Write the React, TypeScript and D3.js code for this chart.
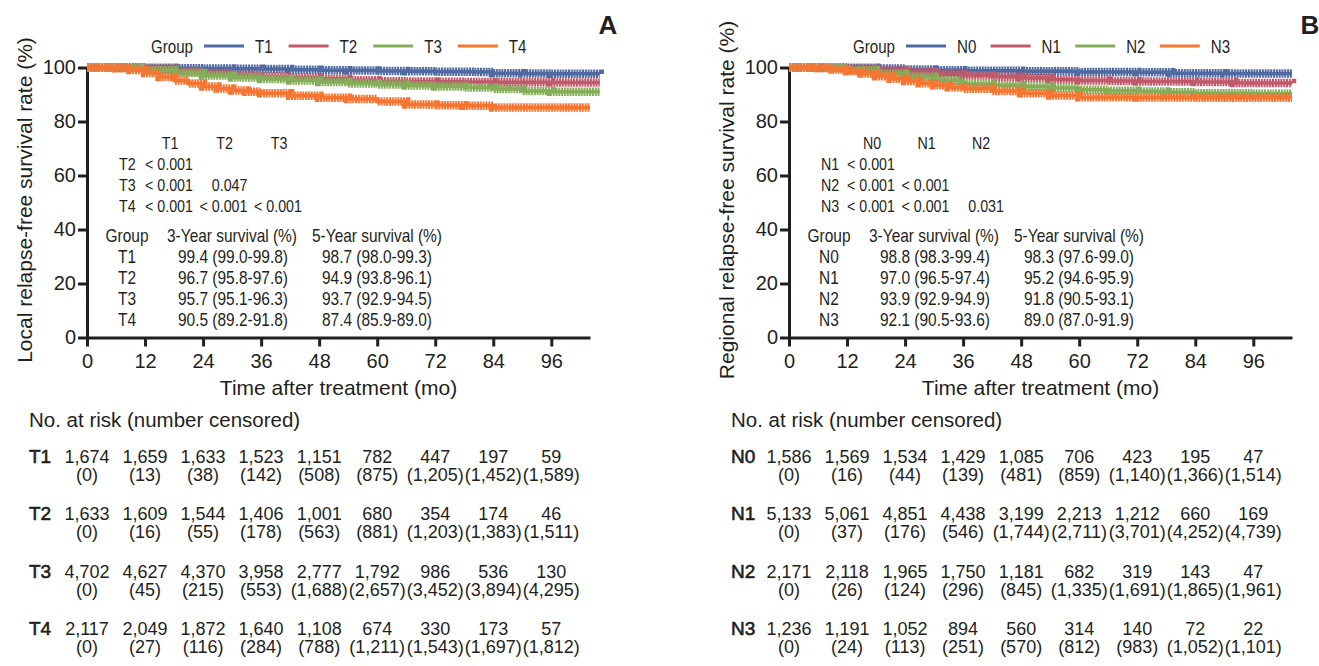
import React, { useEffect, useRef } from "react";
import * as d3 from "d3";

const WIDTH = 1319;
const HEIGHT = 666;
const INK = "#231f20";
const FONT = "'Liberation Sans', Arial, sans-serif";

const timeTicks = [0, 12, 24, 36, 48, 60, 72, 84, 96];
const rateTicks = [0, 20, 40, 60, 80, 100];
const colors = ["#4f6ba1", "#c05a6b", "#85ad5a", "#f47632"];

const tGroups = ["T1", "T2", "T3", "T4"];
const nGroups = ["N0", "N1", "N2", "N3"];

// panel A, local relapse-free survival: [month, %]
const t1Curve = [[0, 100], [6, 100], [12, 99.9], [18, 99.7], [24, 99.6], [30, 99.5], [36, 99.4], [42, 99.2], [48, 99.0], [54, 98.9], [60, 98.7], [66, 98.6], [72, 98.4], [80, 98.3], [84, 97.9], [90, 97.8], [96, 97.7], [106, 97.6]];
const t2Curve = [[0, 100], [6, 100], [12, 99.5], [18, 98.6], [24, 97.9], [30, 97.2], [36, 96.7], [42, 96.3], [48, 95.8], [54, 95.3], [60, 94.9], [66, 94.8], [72, 94.7], [78, 94.6], [84, 94.5], [96, 94.4], [106, 94.4]];
const t3Curve = [[0, 100], [6, 99.8], [12, 99.0], [18, 98.0], [24, 97.0], [30, 96.3], [36, 95.7], [42, 95.2], [48, 94.6], [54, 94.1], [60, 93.7], [66, 93.3], [72, 93.0], [78, 92.6], [84, 92.0], [90, 91.3], [96, 91.0], [106, 91.0]];
const t4Curve = [[0, 100], [6, 99.7], [9, 99.1], [12, 98.0], [15, 96.5], [18, 95.2], [21, 94.1], [24, 93.0], [27, 92.2], [30, 91.5], [33, 91.0], [36, 90.5], [42, 89.5], [48, 88.8], [54, 88.3], [60, 87.4], [66, 86.3], [72, 86.0], [78, 85.8], [84, 85.2], [96, 85.2], [104, 85.2]];

// panel B, regional relapse-free survival
const n0Curve = [[0, 100], [6, 100], [12, 99.9], [18, 99.6], [24, 99.3], [30, 99.0], [36, 98.8], [48, 98.6], [60, 98.3], [72, 98.2], [79, 97.9], [90, 97.8], [104, 97.8]];
const n1Curve = [[0, 100], [6, 99.9], [12, 99.5], [18, 98.9], [24, 98.2], [30, 97.5], [36, 97.0], [42, 96.6], [48, 96.1], [54, 95.6], [60, 95.2], [66, 95.0], [72, 94.8], [84, 94.6], [92, 94.3], [104, 94.2]];
const n2Curve = [[0, 100], [6, 99.8], [12, 99.0], [18, 97.7], [24, 96.6], [30, 95.2], [36, 93.9], [42, 93.4], [48, 93.0], [54, 92.4], [60, 91.8], [66, 91.4], [72, 91.1], [78, 90.8], [84, 90.5], [96, 90.3], [104, 90.3]];
const n3Curve = [[0, 100], [6, 99.8], [9, 99.3], [12, 98.6], [15, 97.8], [18, 96.8], [21, 95.8], [24, 95.0], [27, 94.2], [30, 93.4], [33, 92.7], [36, 92.1], [42, 91.3], [48, 90.5], [54, 89.6], [60, 89.0], [72, 88.9], [84, 88.8], [104, 88.8]];

const tPvalues = [["< 0.001"], ["< 0.001", "0.047"], ["< 0.001", "< 0.001", "< 0.001"]];
const nPvalues = [["< 0.001"], ["< 0.001", "< 0.001"], ["< 0.001", "< 0.001", "0.031"]];

const tSurv3 = ["99.4 (99.0-99.8)", "96.7 (95.8-97.6)", "95.7 (95.1-96.3)", "90.5 (89.2-91.8)"];
const tSurv5 = ["98.7 (98.0-99.3)", "94.9 (93.8-96.1)", "93.7 (92.9-94.5)", "87.4 (85.9-89.0)"];
const nSurv3 = ["98.8 (98.3-99.4)", "97.0 (96.5-97.4)", "93.9 (92.9-94.9)", "92.1 (90.5-93.6)"];
const nSurv5 = ["98.3 (97.6-99.0)", "95.2 (94.6-95.9)", "91.8 (90.5-93.1)", "89.0 (87.0-91.9)"];

const tRisk = [
  [1674, 1659, 1633, 1523, 1151, 782, 447, 197, 59],
  [1633, 1609, 1544, 1406, 1001, 680, 354, 174, 46],
  [4702, 4627, 4370, 3958, 2777, 1792, 986, 536, 130],
  [2117, 2049, 1872, 1640, 1108, 674, 330, 173, 57],
];
const tCensored = [
  [0, 13, 38, 142, 508, 875, 1205, 1452, 1589],
  [0, 16, 55, 178, 563, 881, 1203, 1383, 1511],
  [0, 45, 215, 553, 1688, 2657, 3452, 3894, 4295],
  [0, 27, 116, 284, 788, 1211, 1543, 1697, 1812],
];
const nRisk = [
  [1586, 1569, 1534, 1429, 1085, 706, 423, 195, 47],
  [5133, 5061, 4851, 4438, 3199, 2213, 1212, 660, 169],
  [2171, 2118, 1965, 1750, 1181, 682, 319, 143, 47],
  [1236, 1191, 1052, 894, 560, 314, 140, 72, 22],
];
const nCensored = [
  [0, 16, 44, 139, 481, 859, 1140, 1366, 1514],
  [0, 37, 176, 546, 1744, 2711, 3701, 4252, 4739],
  [0, 26, 124, 296, 845, 1335, 1691, 1865, 1961],
  [0, 24, 113, 251, 570, 812, 983, 1052, 1101],
];

const panels = [
  { x0: 87, letter: "A", yTitle: "Local relapse-free survival rate (%)", groups: tGroups,
    curves: [t1Curve, t2Curve, t3Curve, t4Curve], pvals: tPvalues, surv3: tSurv3, surv5: tSurv5, risk: tRisk, censored: tCensored },
  { x0: 789, letter: "B", yTitle: "Regional relapse-free survival rate (%)", groups: nGroups,
    curves: [n0Curve, n1Curve, n2Curve, n3Curve], pvals: nPvalues, surv3: nSurv3, surv5: nSurv5, risk: nRisk, censored: nCensored },
];

// no condensed face installed, so squeeze the regular one horizontally
function narrowText(parent: any, str: string, x: number, y: number, anchor = "start", squeeze = 0.84) {
  return parent.append("text").text(str)
    .attr("transform", `translate(${x},${y}) scale(${squeeze},1)`)
    .attr("text-anchor", anchor);
}

function drawPanel(svg: any, p: any) {
  const x = d3.scaleLinear().domain([0, 104]).range([p.x0, p.x0 + 503]);
  const y = d3.scaleLinear().domain([0, 100]).range([337.5, 67.5]);
  const g = svg.append("g");
  const fmt = d3.format(",");

  // axes
  const yAxis = d3.axisLeft(y).tickValues(rateTicks).tickSize(9).tickSizeOuter(0).tickPadding(2);
  const xAxis = d3.axisBottom(x).tickValues(timeTicks).tickSize(9).tickSizeOuter(0).tickPadding(7);
  const styleAxis = (a: any) => {
    a.attr("color", INK).attr("font-family", FONT).attr("font-size", 20);
    a.select(".domain").attr("stroke-width", 3);
    a.selectAll(".tick line").attr("stroke-width", 3);
  };
  g.append("g").attr("transform", `translate(${p.x0},0)`).call(yAxis).call(styleAxis);
  g.append("g").attr("transform", `translate(0,${y(0)})`).call(xAxis).call(styleAxis);

  g.append("text").text(p.yTitle)
    .attr("transform", `translate(${p.x0 - 55},200) rotate(-90)`)
    .attr("text-anchor", "middle").attr("font-family", FONT).attr("font-size", 21).attr("fill", INK);
  g.append("text").text("Time after treatment (mo)")
    .attr("x", p.x0 + 251.5).attr("y", 395)
    .attr("text-anchor", "middle").attr("font-family", FONT).attr("font-size", 21).attr("fill", INK);

  // curves (thick dashed band mimics the dense censor ticks)
  const line = d3.line<number[]>().x(d => x(d[0])).y(d => y(d[1])).curve(d3.curveStepAfter);
  p.curves.forEach((c: number[][], i: number) => {
    g.append("path").attr("d", line(c)).attr("fill", "none").attr("stroke", colors[i]).attr("stroke-width", 3.5);
    g.append("path").attr("d", line(c)).attr("fill", "none").attr("stroke", colors[i])
      .attr("stroke-width", 8.5).attr("stroke-dasharray", "2 0.8");
  });

  // legend
  const leg = g.append("g").attr("font-family", FONT).attr("font-size", 18).attr("fill", INK);
  narrowText(leg, "Group", p.x0 + 106, 52.5, "end");
  p.groups.forEach((name: string, i: number) => {
    const lx = p.x0 + 117 + i * 84.6;
    leg.append("line").attr("x1", lx).attr("x2", lx + 40).attr("y1", 46).attr("y2", 46)
      .attr("stroke", colors[i]).attr("stroke-width", 3);
    narrowText(leg, name, lx + 51, 52.5);
  });

  g.append("text").text(p.letter).attr("x", p.x0 + 521).attr("y", 34).attr("text-anchor", "middle")
    .attr("font-family", FONT).attr("font-weight", "bold").attr("font-size", 26).attr("fill", INK);

  // pairwise p-values
  const pv = g.append("g").attr("font-family", FONT).attr("font-size", 17).attr("fill", INK);
  p.groups.slice(0, 3).forEach((name: string, j: number) => {
    narrowText(pv, name, p.x0 + 83 + j * 54.5, 149, "middle");
  });
  p.pvals.forEach((row: string[], i: number) => {
    const ty = 170 + i * 21;
    narrowText(pv, p.groups[i + 1], p.x0 + 32, ty);
    row.forEach((v, j) => narrowText(pv, v, p.x0 + 106 + j * 54.5, ty, "end"));
  });

  // survival table
  const st = g.append("g").attr("font-family", FONT).attr("font-size", 18).attr("fill", INK);
  narrowText(st, "Group", p.x0 + 40, 242, "middle", 0.86);
  narrowText(st, "3-Year survival (%)", p.x0 + 145, 242, "middle", 0.86);
  narrowText(st, "5-Year survival (%)", p.x0 + 290, 242, "middle", 0.86);
  p.groups.forEach((name: string, i: number) => {
    const ty = 263 + i * 21;
    narrowText(st, name, p.x0 + 40, ty, "middle", 0.86);
    narrowText(st, p.surv3[i], p.x0 + 146, ty, "middle", 0.86);
    narrowText(st, p.surv5[i], p.x0 + 290, ty, "middle", 0.86);
  });

  // number at risk
  const rt = g.append("g").attr("font-family", FONT).attr("fill", INK);
  rt.append("text").text("No. at risk (number censored)").attr("x", p.x0 - 58).attr("y", 427).attr("font-size", 20.5);
  p.groups.forEach((name: string, i: number) => {
    const ty = 463 + i * 57.3;
    rt.append("text").text(name).attr("x", p.x0 - 58).attr("y", ty).attr("font-size", 19)
      .attr("stroke", INK).attr("stroke-width", 0.6);
    timeTicks.forEach((t, j) => {
      rt.append("text").text(fmt(p.risk[i][j])).attr("x", x(t)).attr("y", ty)
        .attr("text-anchor", "middle").attr("font-size", 18);
      rt.append("text").text(`(${fmt(p.censored[i][j])})`).attr("x", x(t)).attr("y", ty + 18)
        .attr("text-anchor", "middle").attr("font-size", 18);
    });
  });
}

export default function App() {
  const ref = useRef<SVGSVGElement>(null);

  useEffect(() => {
    const svg = d3.select(ref.current);
    svg.selectAll("*").remove();
    panels.forEach(p => drawPanel(svg, p));
  }, []);

  return (
    <svg ref={ref} width={WIDTH} height={HEIGHT}
      style={{ position: "absolute", left: 0, top: 0, background: "#fff" }} />
  );
}
